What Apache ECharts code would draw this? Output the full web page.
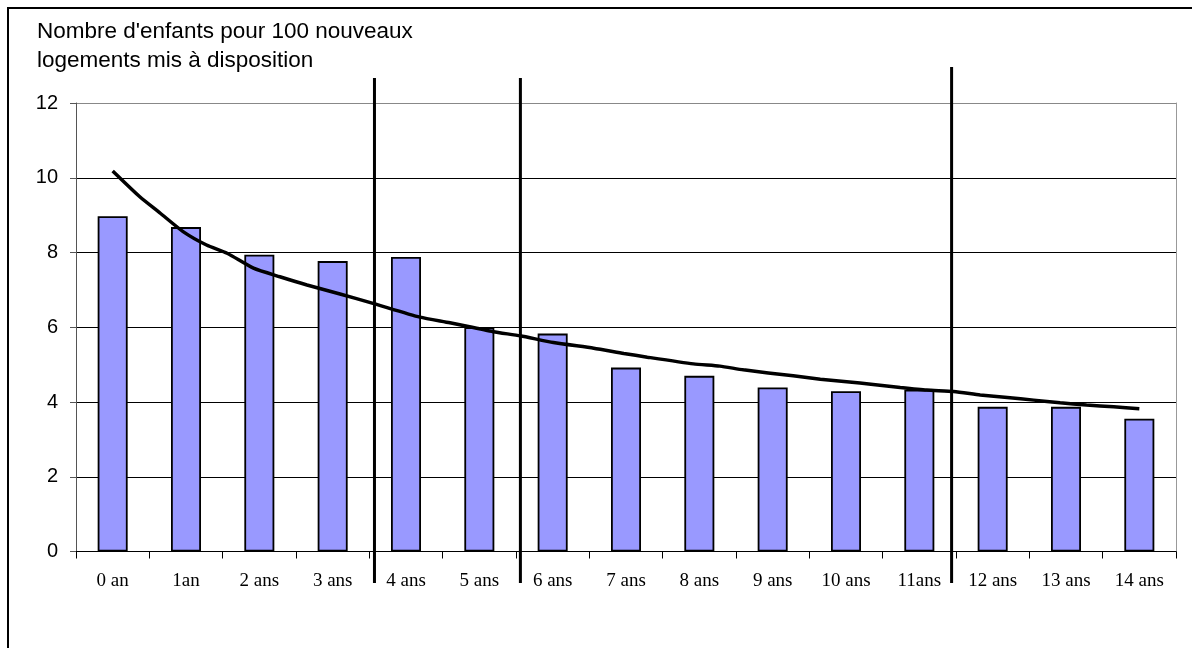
<!DOCTYPE html>
<html>
<head>
<meta charset="utf-8">
<script src="https://cdn.jsdelivr.net/npm/echarts@6/dist/echarts.min.js"></script>
<style>
  html, body { margin: 0; padding: 0; background: #fff; }
  #chart { width: 1192px; height: 648px; }
</style>
</head>
<body>
<div id="chart"></div>
<script>
// Age categories on the horizontal axis
const ages = ['0 an', '1an', '2 ans', '3 ans', '4 ans', '5 ans', '6 ans', '7 ans',
              '8 ans', '9 ans', '10 ans', '11ans', '12 ans', '13 ans', '14 ans'];

// Children per 100 new dwellings, by age
const childrenPer100 = [8.97, 8.68, 7.94, 7.77, 7.88, 6.0, 5.83, 4.92,
                        4.70, 4.39, 4.29, 4.33, 3.87, 3.87, 3.55];

// Fitted trend curve (position along the age axis, value)
const trendPos = [0, 0.37, 0.65, 0.96, 1.28, 1.56, 1.92, 2.28, 2.65, 3.1, 3.55, 4.19,
                  4.6, 5.19, 5.56, 6.01, 6.56, 6.97, 7.29, 7.92, 8.28, 8.6, 9.28, 9.65,
                  10.01, 10.37, 10.74, 11.1, 11.47, 11.83, 12.2, 12.56, 12.92, 13.28, 13.65, 14.0];
const trendVal = [10.18, 9.49, 9.05, 8.56, 8.20, 7.98, 7.58, 7.35, 7.13, 6.89, 6.64, 6.27,
                  6.12, 5.88, 5.77, 5.59, 5.44, 5.30, 5.20, 5.02, 4.96, 4.86, 4.70, 4.61,
                  4.54, 4.47, 4.39, 4.32, 4.28, 4.19, 4.12, 4.05, 3.98, 3.92, 3.87, 3.82];

// Separators between age groups
const separatorPos = [3.57, 5.56, 11.44];
const separatorTop = [12.67, 12.67, 12.96];
const separatorBottom = -0.84;

// Value axis ticks
const yTicks = [0, 2, 4, 6, 8, 10, 12];

const titleLines = ["Nombre d'enfants pour 100 nouveaux", 'logements mis à disposition'];

const chart = echarts.init(document.getElementById('chart'), null, { renderer: 'canvas' });

const trendData = trendPos.map((p, i) => [p, trendVal[i]]);

const separatorSeries = separatorPos.map((p, i) => ({
  type: 'line',
  xAxisIndex: 1,
  yAxisIndex: 0,
  data: [[p, separatorBottom], [p, separatorTop[i]]],
  showSymbol: false,
  clip: false,
  silent: true,
  z: 5,
  lineStyle: { color: '#000', width: 3 }
}));

chart.setOption({
  animation: false,
  backgroundColor: '#fff',
  title: {
    text: titleLines.join('\n'),
    left: 32,
    top: 12,
    textStyle: {
      fontFamily: 'Liberation Sans',
      fontSize: 22.5,
      fontWeight: 'normal',
      color: '#000',
      lineHeight: 29
    }
  },
  graphic: [{
    type: 'rect',
    shape: { x: 8, y: 8, width: 1400, height: 900 },
    style: { fill: 'none', stroke: '#000', lineWidth: 2 },
    silent: true,
    z: -1
  }],
  grid: { left: 76, top: 103, width: 1100, height: 448.5, containLabel: false },
  xAxis: [{
    type: 'category',
    data: ages,
    boundaryGap: true,
    axisLine: { onZero: false, lineStyle: { color: '#000', width: 1 } },
    axisTick: { show: true, length: 7, lineStyle: { color: '#000' } },
    axisLabel: {
      margin: 20,
      fontFamily: 'Liberation Serif',
      fontSize: 19,
      color: '#000',
      interval: 0
    },
    splitLine: { show: false }
  }, {
    type: 'value',
    min: -0.5,
    max: 14.5,
    show: false
  }],
  yAxis: [{
    type: 'value',
    min: yTicks[0],
    max: yTicks[yTicks.length - 1],
    interval: 2,
    axisLine: { show: true, onZero: false, lineStyle: { color: '#555', width: 1 } },
    axisTick: { show: true, length: 6, inside: false, lineStyle: { color: '#555' } },
    axisLabel: {
      margin: 18,
      fontFamily: 'Liberation Sans',
      fontSize: 20,
      color: '#000'
    },
    splitLine: {
      show: true,
      lineStyle: { color: ['#000', '#000', '#000', '#000', '#000', '#000', '#888'], width: 1 }
    }
  }, {
    type: 'value',
    position: 'right',
    min: 0,
    max: 12,
    axisLine: { show: true, onZero: false, lineStyle: { color: '#999', width: 1 } },
    axisTick: { show: false },
    axisLabel: { show: false },
    splitLine: { show: false }
  }],
  series: [{
    type: 'bar',
    data: childrenPer100,
    barWidth: 30,
    itemStyle: { color: '#9999ff', borderColor: '#000', borderWidth: 1.8 },
    z: 2
  }, {
    type: 'line',
    xAxisIndex: 1,
    yAxisIndex: 0,
    data: trendData,
    showSymbol: false,
    smooth: 0.2,
    lineStyle: { color: '#000', width: 3.5 },
    z: 4
  }].concat(separatorSeries)
});
</script>
</body>
</html>
